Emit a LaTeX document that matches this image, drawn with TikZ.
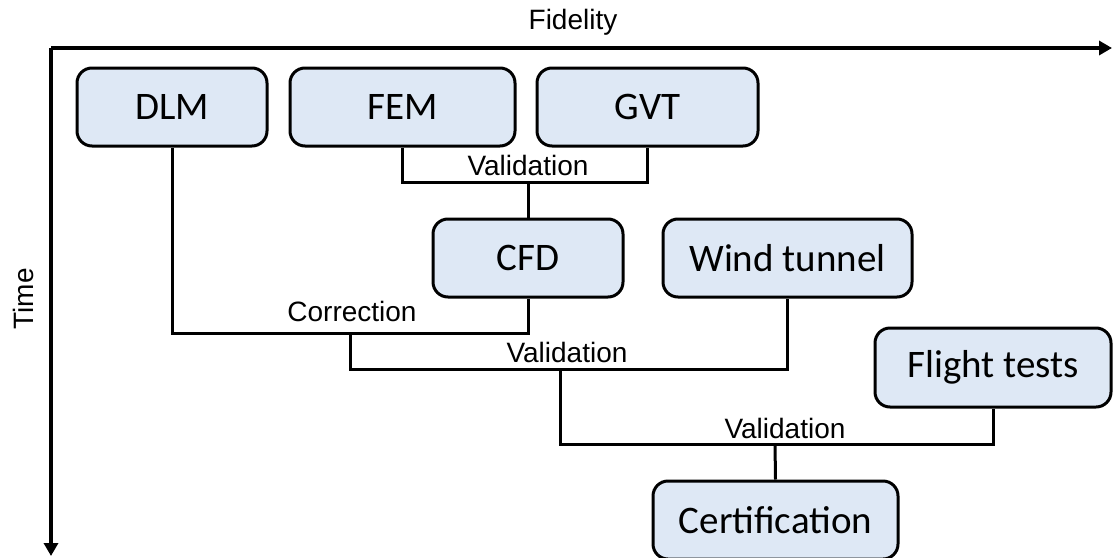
\documentclass[tikz,border=0pt]{standalone}
\usepackage{fontspec}
\setmainfont{Liberation Sans}
\newfontfamily\boxfont{Carlito}
\usetikzlibrary{arrows.meta}
\definecolor{boxfill}{HTML}{DEE8F5}
\begin{document}
\begin{tikzpicture}[x=1pt,y=-1pt,
  stage/.style={draw=black,line width=3pt,fill=boxfill,rounded corners=15pt,
    inner sep=0pt,align=center,font=\boxfont\fontsize{39}{42}\selectfont},
  conn/.style={line width=3pt,draw=black},
  axis/.style={line width=3.3pt,draw=black,-{Triangle[length=13pt,width=14pt]}},
  lbl/.style={inner sep=0pt,font=\fontsize{28}{30}\selectfont}]
\useasboundingbox (0,0) rectangle (1113,557);
% axes
\coordinate (O) at (51,48);
\coordinate (xe) at (1112,48);
\coordinate (ye) at (51,556);
\draw[axis] (O) -- (xe);
\draw[axis] (O) -- (ye);
\node[lbl] (fid) at (573,22) {Fidelity};
\node[lbl,rotate=90] (time) at (23,299) {Time};
% boxes
\node[stage,minimum width=190pt,minimum height=78pt] (DLM) at (172,107) {DLM};
\node[stage,minimum width=225pt,minimum height=78pt] (FEM) at (402.5,107) {FEM};
\node[stage,minimum width=221pt,minimum height=78pt] (GVT) at (647.5,107) {GVT};
\node[stage,minimum width=190pt,minimum height=78pt] (CFD) at (528,258) {CFD};
\node[stage,minimum width=249pt,minimum height=78pt] (WT) at (787.5,258) {Wind tunnel};
\node[stage,minimum width=236pt,minimum height=79pt] (FT) at (993,367.5) {Flight tests};
\node[stage,minimum width=245pt,minimum height=78pt] (CERT) at (775.5,520) {Certification};
% junctions
\coordinate (j1) at (528,182);
\coordinate (j2) at (350,333);
\coordinate (j3) at (560,369);
\coordinate (j4) at (775,444);
% connectors
\draw[conn] (FEM.south) |- (j1) -| (GVT.south);
\draw[conn] (j1) -- (CFD.north);
\draw[conn] (DLM.south) |- (j2) -| (CFD.south);
\draw[conn] (j2) |- (j3) -| (WT.south);
\draw[conn] (j3) |- (j4) -| (FT.south);
\draw[conn] (j4) -- (CERT.north);
% labels
\node[lbl] (v1) at (528,165) {Validation};
\node[lbl] (corr) at (352,311) {Correction};
\node[lbl] (v2) at (567,352) {Validation};
\node[lbl] (v3) at (785,428) {Validation};
\end{tikzpicture}
\end{document}
